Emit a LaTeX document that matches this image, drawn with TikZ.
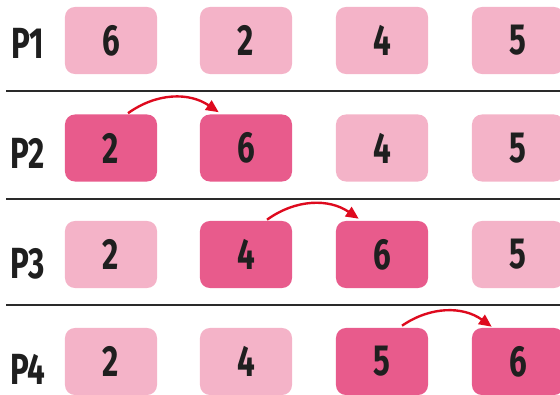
\documentclass[tikz,border=0pt]{standalone}
\usepackage{fontspec}
\setmainfont{Fira Sans}[FakeStretch=0.72]
\usetikzlibrary{arrows.meta,calc}
\definecolor{lightpink}{HTML}{F4B3C8}
\definecolor{hotpink}{HTML}{E85B8C}
\definecolor{swapred}{HTML}{DE0A1E}
\definecolor{rulegray}{HTML}{2A2A2A}
\begin{document}
\begin{tikzpicture}[x=0.025cm, y=-0.025cm,
  every node/.style={font=\bfseries\fontsize{31}{31}\selectfont, text=black!88},
  cell/.style={rounded corners=7pt,minimum width=2.3cm,minimum height=1.675cm,inner sep=0pt},
  idle/.style={cell,fill=lightpink},
  moved/.style={cell,fill=hotpink},
  pass/.style={inner sep=1pt,font=\bfseries\fontsize{31}{31}\selectfont},
  sep/.style={draw=rulegray,line width=2pt},
  swap/.style={-{Triangle[length=9pt,width=8pt]},draw=swapred,line width=1.7pt,bend left=35}]
\useasboundingbox (0,0) rectangle (560,395);
% pass 1
\node[pass] (p1) at (28,43) {P1};
\node[idle] (r1a) at (111,40.5) {6};
\node[idle] (r1b) at (246,40.5) {2};
\node[idle] (r1c) at (382,40.5) {4};
\node[idle] (r1d) at (518,40.5) {5};
\draw[sep] (6,91) -- (560,91);
% pass 2
\node[pass] (p2) at (28,153) {P2};
\node[moved] (r2a) at (111,148) {2};
\node[moved] (r2b) at (246,148) {6};
\node[idle] (r2c) at (382,148) {4};
\node[idle] (r2d) at (518,148) {5};
\draw[swap] ($(r2a.north)+(17,-1)$) to ($(r2b.north west)+(19,-2)$);
\draw[sep] (6,199) -- (560,199);
% pass 3
\node[pass] (p3) at (28,264) {P3};
\node[idle] (r3a) at (111,254.5) {2};
\node[moved] (r3b) at (246,254.5) {4};
\node[moved] (r3c) at (382,254.5) {6};
\node[idle] (r3d) at (518,254.5) {5};
\draw[swap] ($(r3b.north)+(21,-1)$) to ($(r3c.north west)+(23,-2)$);
\draw[sep] (6,305) -- (560,305);
% pass 4
\node[pass] (p4) at (28,369) {P4};
\node[idle] (r4a) at (111,361.5) {2};
\node[idle] (r4b) at (246,361.5) {4};
\node[moved] (r4c) at (382,361.5) {5};
\node[moved] (r4d) at (518,361.5) {6};
\draw[swap] ($(r4c.north)+(20,-2)$) to ($(r4d.north west)+(20,-1)$);
\end{tikzpicture}
\end{document}
